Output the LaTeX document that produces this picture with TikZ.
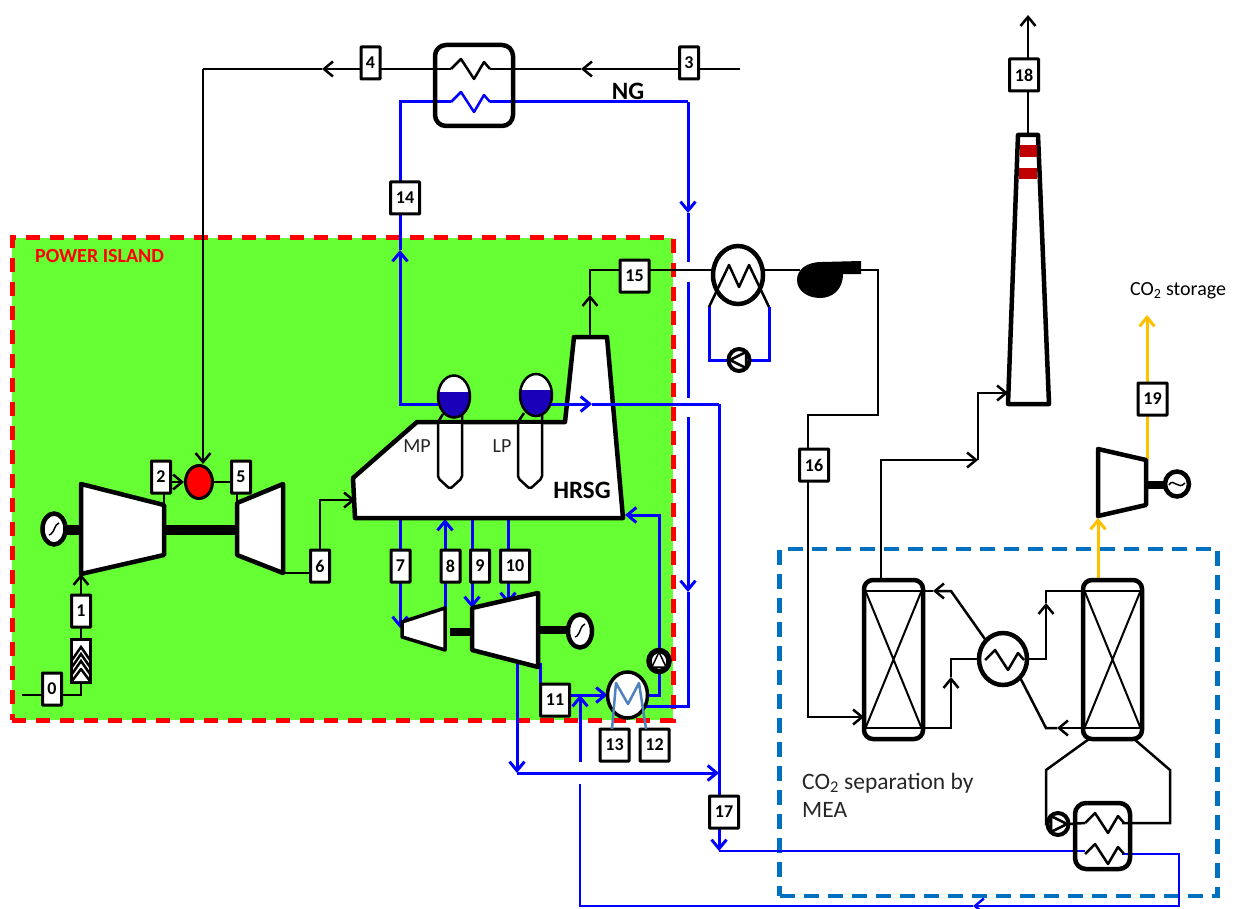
\documentclass[tikz,border=0pt]{standalone}
\usepackage{fontspec}
\setmainfont{Carlito}
\usetikzlibrary{arrows.meta, positioning, shapes.geometric, backgrounds}
\definecolor{islandgreen}{HTML}{66FF33}
\definecolor{islandred}{HTML}{FF0000}
\definecolor{sepblue}{HTML}{0070C0}
\definecolor{steamblue}{HTML}{0000FF}
\definecolor{waterblue}{HTML}{1A00B8}
\definecolor{coilblue}{HTML}{4F81BD}
\definecolor{coorange}{HTML}{FFC000}
\definecolor{bandred}{HTML}{C00000}

\begin{document}
\begin{tikzpicture}[
  x=1pt, y=-1pt,
  numbox/.style={rectangle, draw, fill=white, line width=3pt, rounded corners=0.5pt, inner sep=0pt, outer sep=0pt, minimum width=#1, minimum height=32pt, font=\fontsize{18}{18}\selectfont\bfseries},
  equip/.style={line width=4.5pt, line join=round},
  kpipe/.style={draw=black, line width=2.5pt},
  bpipe/.style={draw=steamblue, line width=3pt},
  thinpipe/.style={draw=steamblue, line width=2.4pt},
  opipe/.style={draw=coorange, line width=3pt},
  arr/.style={-{Straight Barb[length=9pt,width=15pt]}},
  shaftline/.style={line width=10pt},
  gen/.style={ellipse, draw, fill=white, line width=4.5pt, inner sep=0pt, outer sep=0pt, minimum width=23pt, minimum height=31pt},
  pumpnode/.style={ellipse, draw, fill=white, line width=4pt, inner sep=0pt, outer sep=0pt, minimum width=21pt, minimum height=22pt},
  hxbox/.style={rectangle, draw, rounded corners=11pt, line width=4.5pt, inner sep=0pt, outer sep=0pt},
  column/.style={rectangle, draw, rounded corners=9pt, line width=4.5pt, inner sep=0pt, outer sep=0pt, minimum width=59pt, minimum height=159pt},
  hxcirc/.style={ellipse, draw, fill=white, line width=4.5pt, inner sep=0pt, outer sep=0pt},
  tube/.style={draw=black, fill=white, line width=2.5pt, line join=round, rounded corners=2pt},
  lbl/.style={inner sep=0pt, font=\fontsize{#1}{#1}\selectfont},
]
  \useasboundingbox (0,0) rectangle (1241,909);

  % frames
  \begin{scope}[on background layer]
    \node[rectangle, draw=islandred, fill=islandgreen, line width=5pt, dash pattern=on 14pt off 10pt, inner sep=0pt, minimum width=661pt, minimum height=482pt] (island) at (342.5,479) {};
    \node[rectangle, draw=sepblue, line width=4.5pt, dash pattern=on 15pt off 9pt, inner sep=0pt, minimum width=438pt, minimum height=347pt] (sepframe) at (998.5,722.5) {};
  \end{scope}

  % pipe points
  \foreach \n/\x/\y in {airin/22/695, compout/164/505, compin/81/574, turbin/237/503, turbout/283/573, hrsgin/355/500,
    ngin/740/69, ngarr/581/69, coilkr/490/69, coilkl/451/69, fuelarr/322/69, fuelc/203/69,
    coilbl/451/102, coilbr/490/102, c14/400/102, mpout/438/404, arr14/400/250, c14b/400/404,
    ngc/688/102, ngarrb/688/213, gapa/688/262, gapb/688/282, gapc/688/398, gapd/688/417, arrlow/688/592, c12/688/706, condret/646/706,
    lpout/551/404, lparr/592/404, c17/719/404, arr17/719/851, rebin/1085/851,
    rebout/1122/854, c18/1179/854, c19/1179/906, retarr/973/906, c20/580/906, gape/580/784, gapf/580/762,
    p7/400/518, tip7/400/628, p8/445/610, tip8/445/519, p9/472/519, tip9/472/608, p10/508/519, tip10/508/604,
    hrsgfw/625/515, tbo/540/663, tbdrop/517/664, mixl/517/773, mixr/719/773,
    hrsgtop/590/336, arr15/590/295, c15/590/270, coolin/713/270, coolout/763/270, fanin/800/270, fanout/861/270,
    c16/878/415, c16b/808/415, absin/864/717, absout/881/580, stackj/978/460, stackin/1008/393,
    stacktop/1028/135, stackexit/1028/15,
    coolbl/709/307, coolbr/769/307,
    absa/923/591, hxa/951/591, hxarra/933/591, absb/923/728, hxb/951/728, hxarrb/951/677, hxbt/951/659,
    stra/1083/591, hxc/1046/591, hxarrc/1046/603, hxct/1046/659, strb/1083/728, hxd/1046/728, hxarrd/1057/728,
    rebl/1089/739, reblb/1046/770, reblc/1046/824, rebr/1134/739, rebrb/1170/770, rebrc/1170/823, rebca/1085/823, rebcb/1122/823,
    costr/1098/580, coarr/1098/518, coturb/1147/460, coend/1147/315,
    shafta/66/530, shaftb/81/530, shaftc/164/530, shaftd/237/530, shafte/450/632, shaftf/472/632, shaftg/538/630, shafth/568/630, shafti/1146/485, shaftj/1165/485} {
    \coordinate (\n) at (\x,\y);
  }

  % shafts
  \draw[shaftline] (shafta) -- (shaftb);
  \draw[shaftline] (shaftc) -- (shaftd);
  \draw[line width=8pt] (shafte) -- (shaftf);
  \draw[line width=8pt] (shaftg) -- (shafth);
  \draw[line width=8pt] (shafti) -- (shaftj);

  % gas turbine
  \draw[equip, fill=white] (81,484) -- (164,505) -- (164,555) -- (81,574) -- cycle;
  \draw[equip, fill=white] (237,503) -- (283,484) -- (283,573) -- (237,555) -- cycle;
  \node[gen] (gengt) at (54,529) {};
  \draw[line width=1.5pt] (49,535) -- (51,534) .. controls (55,531) and (54,525) .. (59,523);
  \node[ellipse, draw, fill=red, line width=3pt, inner sep=0pt, minimum width=27pt, minimum height=33pt] (comb) at (199,482) {};
  \node[rectangle, draw, fill=white, line width=2.5pt, inner sep=0pt, outer sep=0pt, minimum width=19pt, minimum height=43pt] (filter) at (81,661) {};
  \foreach \c in {647,654,661}
    \draw[line width=2.5pt] (72,\c+13) -- (81,\c) -- (90,\c+13);
  \draw[line width=2.5pt, fill=white, line join=round] (72,681) -- (81,669) -- (90,681);

  % hrsg
  \draw[equip, fill=white] (355,518) -- (353,478) -- (417,422) -- (565,422) -- (574,337) -- (607,337) -- (623,518) -- cycle;
  \draw[tube] (438,422) -- (438,478) -- (450,489) -- (462,478) -- (462,422);
  \draw[tube] (518,422) -- (518,478) -- (530,489) -- (542,478) -- (542,422);
  \draw[equip] (417,422) -- (565,422);
  \draw[line width=2.5pt] (438,422) -- (443,414) (462,422) -- (462,414) (518,422) -- (524,413) (542,422) -- (542,414);
  \begin{scope}
    \clip (454,396.5) ellipse [x radius=16, y radius=21];
    \fill[white] (430,370) rectangle (480,392);
    \fill[waterblue] (430,392) rectangle (480,420);
  \end{scope}
  \begin{scope}
    \clip (536,395) ellipse [x radius=16, y radius=21];
    \fill[white] (510,370) rectangle (560,390);
    \fill[waterblue] (510,390) rectangle (560,420);
  \end{scope}
  \node[ellipse, draw, line width=2.5pt, inner sep=0pt, outer sep=0pt, minimum width=32pt, minimum height=42pt] (mpdrum) at (454,396.5) {};
  \node[ellipse, draw, line width=2.5pt, inner sep=0pt, outer sep=0pt, minimum width=32pt, minimum height=42pt] (lpdrum) at (536,395) {};
  \node[lbl=20, text=black!85] (mplabel) at (417,446) {MP};
  \node[lbl=20, text=black!85] (lplabel) at (502,446) {LP};
  \node[lbl=25, font=\fontsize{25}{25}\selectfont\bfseries] (hrsglabel) at (582,490) {HRSG};

  % steam turbines
  \draw[equip, line width=3.5pt, fill=white] (402,622) -- (445,608) -- (445,650) -- (402,637) -- cycle;
  \draw[equip, fill=white] (472,608) -- (538,593) -- (538,667) -- (472,650) -- cycle;
  \node[gen, minimum width=24pt, minimum height=33pt] (genst) at (580,631) {};
  \draw[line width=1.5pt] (575,637) -- (577,636) .. controls (581,632) and (580,626) .. (585,624);

  % condenser and pumps
  \node[hxcirc, line width=3.5pt, minimum width=40pt, minimum height=46pt] (condenser) at (627.5,695) {};
  \node[pumpnode, line width=5.5pt, minimum width=20pt, minimum height=21pt] (pumpst) at (659,661) {};
  \draw[fill=white, line width=1.5pt, line join=round] (659,652) -- (652,667) -- (666,667) -- cycle;
  \node[pumpnode] (pumpcool) at (739,360) {};
  \draw[line width=2.5pt, line join=round] (730,360) -- (746,352) -- (746,368) -- cycle;
  \node[pumpnode] (pumpreb) at (1058,824) {};
  \draw[line width=2.5pt, line join=round] (1067,824) -- (1051,816) -- (1051,832) -- cycle;

  % gas cooler and fan
  \node[hxcirc, minimum width=50pt, minimum height=58pt] (cooler) at (738,275) {};
  \fill (861,261) -- (822,262) .. controls (806,262) and (797,270) .. (797,280) .. controls (797,291) and (808,298) .. (820,298) .. controls (832,298) and (843,290) .. (843,274) -- (861,274) -- cycle;
  \draw[line width=2.5pt, line join=round] (coolbl) -- (729,265) -- (739,287) -- (749,265) -- (coolbr);

  % stack
  \draw[equip, fill=white] (1008,404) -- (1018,135) -- (1038,135) -- (1049,404) -- cycle;
  \fill[bandred] (1019.5,145.5) rectangle (1036.5,157);
  \fill[bandred] (1019,168) rectangle (1037,179);

  % co2 compressor
  \draw[equip, fill=white] (1098,449) -- (1146,460) -- (1146,505) -- (1098,516) -- cycle;
  \node[gen, minimum width=24pt, minimum height=25pt] (genco) at (1177,484) {};
  \draw[line width=1.5pt] (1169,485) .. controls (1173,477) and (1178,491) .. (1185,483);

  % heat exchangers and columns
  \node[hxbox, minimum width=78pt, minimum height=81pt] (nghx) at (474,85.5) {};
  \node[hxbox, minimum width=55pt, minimum height=66pt] (rebhx) at (1102.5,836) {};
  \node[hxcirc, minimum width=48pt, minimum height=52pt] (hxmid) at (1003,659) {};
  \node[column] (absorber) at (893.5,659.5) {};
  \node[column] (stripper) at (1112.5,659.5) {};
  \foreach \c in {893.5,1112.5} {
    \draw[line width=2.5pt] (\c-28,591) -- (\c+28,591) (\c-28,728) -- (\c+28,728);
    \draw[line width=2pt] (\c-28,591) -- (\c+28,728) (\c+28,591) -- (\c-28,728);
  }

  % coils
  \foreach \x/\y/\c/\w in {451/69/black/2.5, 451/102/steamblue/2.5, 985/660/black/2.5, 1085/823/black/2.5, 1085/854/black/2.5}
    \draw[draw=\c, line width=\w pt, line join=round] (\x,\y) -- ++(10,-10) -- ++(13,20) -- ++(10,-17) -- ++(6,7);

  % stream numbers
  \foreach \n/\x/\y/\w in {0/52/689/19, 1/81/611/19, 2/161/477/19, 3/689/63/19, 4/370.5/63/19, 5/241/477/19, 6/320/566/19,
    7/400.5/566/19, 8/450.5/566/19, 9/480/566/19, 10/515/566/29, 11/555/700/29, 12/654.5/745/29, 13/614.5/745/29,
    14/405/198/29, 15/634.5/276/29, 16/814/465/29, 17/724/812/29, 18/1024/75/29, 19/1152.5/399/29}
    \node[numbox=\w pt] (box\n) at (\x,\y) {\n};

  % condenser coil
  \draw[draw=coilblue, line width=2.5pt, line join=round] ([xshift=-2.5pt]box13.north) -- (616,683) -- (628,704) -- (639,683) -- ([xshift=-8.5pt]box12.north);

  % texts
  \node[lbl=20, font=\fontsize{20}{20}\selectfont\bfseries, text=red, anchor=west] (islandlabel) at (35,256.5) {POWER ISLAND};
  \node[lbl=25, font=\fontsize{25}{25}\selectfont\bfseries] (nglabel) at (628,91) {NG};
  \node[lbl=20, anchor=west] (storelabel) at (1130,291) {CO\textsubscript{2} storage};
  \node[lbl=24, anchor=west, align=left, font=\fontsize{23.5}{28}\selectfont, text=black!85] (seplabel) at (802,795) {CO\textsubscript{2} separation by\\MEA};

  % black streams
  \begin{scope}[on background layer]
    \draw[kpipe] (airin) -| (filter.south);
    \draw[kpipe] (filter.north) -- (box1.south);
    \draw[kpipe, arr] (box1.north) -- (compin);
    \draw[kpipe] (compout) -- (compout |- box2.south);
    \draw[kpipe, arr] (box2.east |- comb) -- (comb.west);
    \draw[kpipe] (comb.east) -- (box5.west |- comb);
    \draw[kpipe] (turbin) -- (turbin |- box5.south);
    \draw[kpipe] (turbout) -- (turbout -| box6.west);
    \draw[kpipe, arr] (box6.north) |- (hrsgin);
    \draw[kpipe, arr] (ngin) -- (ngarr);
    \draw[kpipe] (ngarr) -- (coilkr);
    \draw[kpipe, arr] (coilkl) -- (fuelarr);
    \draw[kpipe] (fuelarr) -- (fuelc);
    \draw[kpipe, arr] (fuelc) -- (fuelc |- comb.north);
    \draw[kpipe, arr] (hrsgtop) -- (arr15);
    \draw[kpipe] (arr15) -- (c15) -- (c15 -| box15.west);
    \draw[kpipe] (c15 -| box15.east) -- (coolin);
    \draw[kpipe] (coolout) -- (fanin);
    \draw[kpipe] (fanout) -| (c16) -- (c16b) -- (c16b |- box16.north);
    \draw[kpipe, arr] (c16b |- box16.south) |- (absin);
    \draw[kpipe, arr] (absout) |- (stackj);
    \draw[kpipe, arr] (stackj) |- (stackin);
    \draw[kpipe] (stacktop) -- (stacktop |- box18.south);
    \draw[kpipe, arr] (stacktop |- box18.north) -- (stackexit);
    \draw[kpipe, arr] (hxmid.north west) -- (hxa) -- (hxarra);
    \draw[kpipe] (hxarra) -- (absa);
    \draw[kpipe, arr] (absb) -- (hxb) -- (hxarrb);
    \draw[kpipe] (hxarrb) -- (hxbt) -- (hxmid.west);
    \draw[kpipe, arr] (hxmid.east) -- (hxct) -- (hxarrc);
    \draw[kpipe] (hxarrc) -- (hxc) -- (stra);
    \draw[kpipe, arr] (strb) -- (hxarrd);
    \draw[kpipe] (hxarrd) -- (hxd) -- (hxmid.south east);
    \draw[kpipe] (rebl) -- (reblb) -- (reblc) -- (pumpreb.west);
    \draw[kpipe] (pumpreb.east) -- (rebca);
    \draw[kpipe] (rebcb) -- (rebrc) -- (rebrb) -- (rebr);
    % blue streams
    \draw[bpipe] (coilbr) -- (ngc);
    \draw[bpipe, arr] (ngc) -- (ngarrb);
    \draw[bpipe] (ngarrb) -- (gapa);
    \draw[bpipe] (gapb) -- (gapc);
    \draw[bpipe, arr] (gapd) -- (arrlow);
    \draw[bpipe] (arrlow) -- (c12) -- (condret);
    \draw[bpipe] (coilbl) -- (c14) -- (c14 |- box14.north);
    \draw[bpipe] (c14 |- box14.south) -- (arr14);
    \draw[bpipe, arr] (mpout) -- (c14b) -- (arr14);
    \draw[bpipe] (c17) -- (c17 |- box17.north);
    \draw[bpipe, arr] (c17 |- box17.south) -- (arr17);
    \draw[thinpipe] (arr17) -- (rebin);
    \draw[thinpipe, arr] (rebout) -- (c18) -- (c19) -- (retarr);
    \draw[thinpipe] (retarr) -- (c20) -- (gape);
    \draw[bpipe, arr] (p7) -- (tip7);
    \draw[bpipe, arr] (p8) -- (tip8);
    \draw[bpipe, arr] (p9) -- (tip9);
    \draw[bpipe, arr] (p10) -- (tip10);
    \draw[bpipe, arr] (pumpst.north) |- (hrsgfw);
    \draw[bpipe] (condenser.east) -| (pumpst.south);
    \draw[bpipe] (tbo) -- (tbo |- box11.north);
    \draw[bpipe, arr] (box11.east |- condenser) -- (condenser.west);
    \draw[bpipe, arr] (gapf) -- (gapf |- condenser);
    \draw[bpipe, arr] (tbdrop) -- (mixl);
    \draw[bpipe, arr] (mixl) -- (mixr);
    \draw[bpipe] (coolbl) |- (pumpcool.west);
    \draw[bpipe] (pumpcool.east) -| (coolbr);
    % co2 line
    \draw[opipe] (coturb) -- (coturb |- box19.south);
    \draw[opipe, arr] (coturb |- box19.north) -- (coend);
    \draw[opipe, arr] (costr) -- (coarr);
  \end{scope}

  % lp steam over the stack
  \draw[bpipe, arr] (lpout) -- (lparr);
  \draw[bpipe] (lparr) -- (c17);
\end{tikzpicture}
\end{document}
